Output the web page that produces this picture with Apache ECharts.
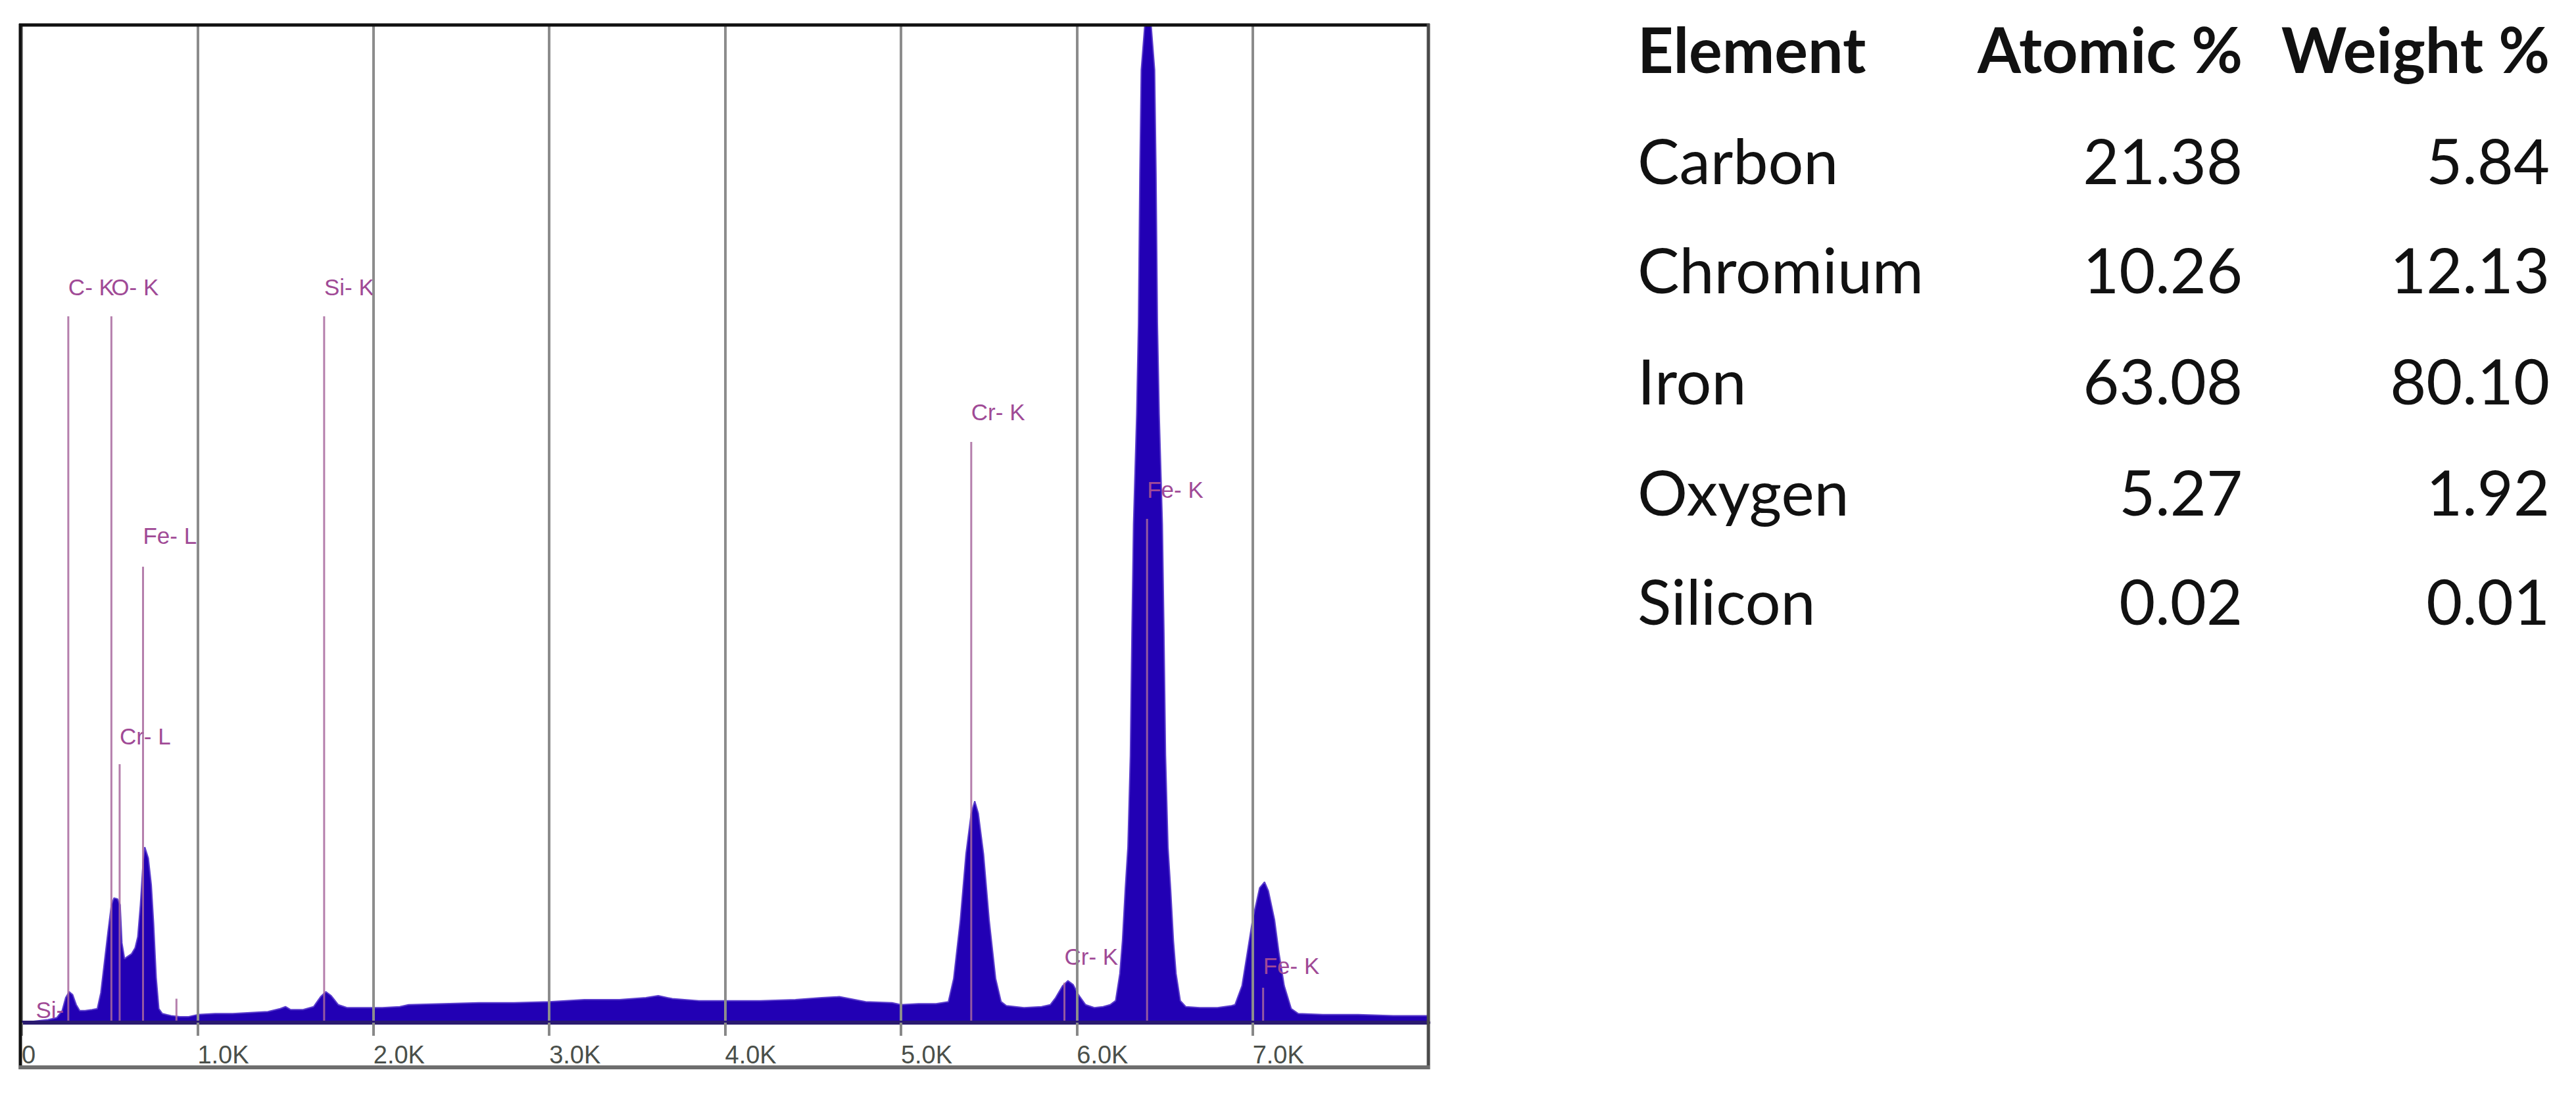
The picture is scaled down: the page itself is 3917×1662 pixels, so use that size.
<!DOCTYPE html>
<html>
<head>
<meta charset="utf-8">
<title>EDS spectrum</title>
<script src="https://cdn.jsdelivr.net/npm/echarts@6/dist/echarts.min.js"></script>
<style>
html,body{margin:0;padding:0;background:#fff;}
#main{width:3917px;height:1662px;}
</style>
</head>
<body>
<div id="main"></div>
<script>
// spectrum: energy in keV, counts in plot units (1000 = top of frame)
var energyKeV = [0.00,0.05,0.10,0.15,0.20,0.23,0.25,0.27,0.29,0.31,0.33,0.36,0.40,0.43,0.45,0.47,0.49,0.51,0.525,0.545,
	0.56,0.57,0.585,0.60,0.625,0.645,0.66,0.675,0.69,0.70,0.72,0.737,0.75,0.765,0.78,0.80,0.85,0.90,0.95,1.00,
	1.10,1.20,1.30,1.40,1.47,1.50,1.53,1.60,1.66,1.70,1.73,1.76,1.80,1.85,1.95,2.05,2.15,2.20,2.40,2.60,
	2.80,3.00,3.20,3.40,3.55,3.62,3.70,3.85,4.00,4.20,4.40,4.55,4.65,4.80,4.95,5.00,5.10,5.20,5.27,5.30,
	5.338,5.37,5.40,5.42,5.44,5.47,5.502,5.539,5.57,5.60,5.70,5.80,5.85,5.88,5.92,5.95,5.98,6.01,6.05,6.10,
	6.15,6.19,6.221,6.245,6.26,6.276,6.291,6.305,6.314,6.323,6.341,6.351,6.359,6.367,6.387,6.395,6.415,6.423,6.443,6.451,
	6.459,6.469,6.487,6.496,6.505,6.519,6.534,6.55,6.565,6.589,6.62,6.70,6.80,6.88,6.90,6.94,6.97,7.00,7.04,7.068,
	7.09,7.125,7.15,7.18,7.22,7.26,7.40,7.60,7.80,8.00];
var counts = [1,1,2,3,5,12,25,31,28,18,12,12,13,14,30,60,90,118,125,124,
	118,80,64,66,69,75,86,118,160,176,165,138,100,45,14,9,7,6,6,8,
	9,9,10,11,14,16,13,13,16,26,31,27,18,15,15,15,16,18,19,20,
	20,21,23,23,25,27,24,22,22,22,23,25,26,21,20,18,19,19,21,44,
	103,169,210,222,210,169,103,44,21,17,15,16,18,25,37,42,38,28,18,15,
	16,18,22,49,82,134,176,268,392,500,610,701,851,955,1000,1100,1100,1000,955,851,
	701,610,500,392,268,176,134,82,49,22,16,15,15,17,18,37,70,103,135,141,
	132,103,70,37,14,9,8,8,7,7];

var tickLabels = ['0','1.0K','2.0K','3.0K','4.0K','5.0K','6.0K','7.0K','8.0K'];

// peak markers
var peakNames   = ['Si-','C- K','O- K','Cr- L','Fe- L','','Si- K','Cr- K','Cr- K','Fe- K','Fe- K'];
var peakEnergy  = [0.08,0.265,0.51,0.557,0.69,0.88,1.72,5.40,5.93,6.40,7.06];
var peakTop     = [0,708,708,259,457,24,708,582,40,505,35];
var peakLabelAt = [13,737,737,287,488,0,737,612,66,534,57];

// quantification table
var elements  = ['Carbon','Chromium','Iron','Oxygen','Silicon'];
var atomicPct = ['21.38','10.26','63.08','5.27','0.02'];
var weightPct = ['5.84','12.13','80.10','1.92','0.01'];

var init = function(){
	var myChart = echarts.init(document.getElementById('main'), null, {renderer:'svg'});

	var specData = energyKeV.map(function(e,i){ return [e, counts[i]]; });
	var peakData = peakEnergy.map(function(e,i){ return [e, peakTop[i], peakLabelAt[i]]; });

	function txt(s, x, y, font, align){
		return {type:'text', x:x, y:y, style:{text:s, font:font, fill:'#111', align:align, verticalAlign:'middle', textAlign:align, textVerticalAlign:'middle'}};
	}
	function frameLine(x1, y1, x2, y2, color, w){
		return {type:'line', z:100, silent:true, shape:{x1:x1, y1:y1, x2:x2, y2:y2}, style:{stroke:color, lineWidth:w}};
	}

	var tableFont = '95px Lato, "Open Sans", sans-serif';
	var headFont = 'bold 95px Lato, "Open Sans", sans-serif';
	var rowY = [243,409,578,747,913];
	var graphics = [
		txt('Element', 2490, 74, headFont, 'left'),
		txt('Atomic %', 3410, 74, headFont, 'right'),
		txt('Weight %', 3877, 74, headFont, 'right'),
		// plot frame
		frameLine(29, 38, 2174, 38, '#111', 5),
		frameLine(31, 36, 31, 1626, '#111', 5),
		frameLine(2172, 36, 2172, 1626, '#4a4a4a', 5),
		frameLine(29, 1623, 2174, 1623, '#6e6e6e', 6)
	];
	elements.forEach(function(name,i){
		graphics.push(txt(name, 2490, rowY[i], tableFont, 'left'));
		graphics.push(txt(atomicPct[i], 3410, rowY[i], tableFont, 'right'));
		graphics.push(txt(weightPct[i], 3877, rowY[i], tableFont, 'right'));
	});

	var option = {
		animation:false,
		backgroundColor:'#fff',
		grid:{
			left:33,
			top:38,
			width:2139,
			height:1517,
			outerBoundsMode:'none',
			containLabel:false
		},
		xAxis:{
			type:'value',
			min:0,
			max:8,
			interval:1,
			z:5,
			axisLine:{lineStyle:{color:'#2a1a70', width:6}},
			axisTick:{show:true, length:20, lineStyle:{color:'#888', width:4}},
			splitLine:{show:true, lineStyle:{color:'#8c8c8c', width:4}},
			axisLabel:{
				showMaxLabel:false,
				align:'left',
				margin:30,
				fontSize:38,
				fontFamily:'"Liberation Sans", Arial, sans-serif',
				color:'#4a4f4a',
				formatter:function(v){ return tickLabels[Math.round(v)]; }
			}
		},
		yAxis:{
			type:'value',
			min:0,
			max:1000,
			axisLine:{show:false},
			axisTick:{show:false},
			axisLabel:{show:false},
			splitLine:{show:false}
		},
		graphic:graphics,
		series:[
			{
				name:'spectrum',
				type:'line',
				z:2,
				symbol:'none',
				clip:true,
				data:specData,
				lineStyle:{color:'#5a3ccc', width:2},
				areaStyle:{color:'#2200b4', opacity:1}
			},
			{
				name:'peaks',
				type:'custom',
				z:3,
				silent:true,
				data:peakData,
				encode:{x:0, y:1},
				renderItem:function(params, api){
					var i = params.dataIndex;
					var e = api.value(0), t = api.value(1), l = api.value(2);
					var children = [];
					if(t > 0){
						var p0 = api.coord([e, 0]);
						var p1 = api.coord([e, t]);
						children.push({type:'line', shape:{x1:p0[0], y1:p0[1], x2:p1[0], y2:p1[1]}, style:{stroke:'#a8689e', lineWidth:3, opacity:0.85}});
					}
					if(peakNames[i]){
						var pl = api.coord([e, l]);
						children.push({type:'text', x:pl[0], y:pl[1], style:{text:peakNames[i], fill:'#a04a96', font:'35px "Liberation Sans", Arial, sans-serif', align:'left', verticalAlign:'middle', textAlign:'left', textVerticalAlign:'middle'}});
					}
					return {type:'group', children:children};
				}
			}
		]
	};
	myChart.setOption(option);
};

init();
</script>
</body>
</html>
